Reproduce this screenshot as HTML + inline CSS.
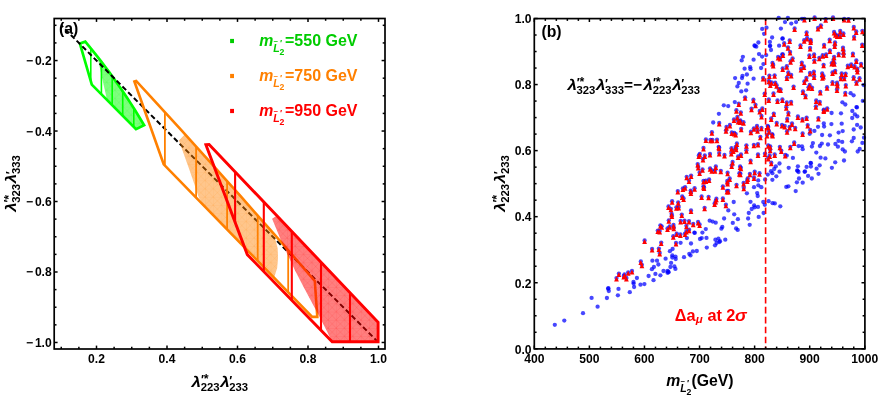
<!DOCTYPE html>
<html><head><meta charset="utf-8"><title>plot</title>
<style>html,body{margin:0;padding:0;background:#fff;}svg{display:block;will-change:transform;}text{font-family:"Liberation Sans", sans-serif;}</style>
</head><body>
<svg width="880" height="412" viewBox="0 0 880 412" font-family='"Liberation Sans", sans-serif'>
<rect width="880" height="412" fill="#fff"/>
<defs><pattern id="meshG" width="8.2" height="8.2" patternUnits="userSpaceOnUse"><path d="M0 0H8.2M0 0V8.2M0 0L8.2 8.2M8.2 0L0 8.2" stroke="#00ff00" stroke-width="0.7" stroke-opacity="0.16" fill="none"/></pattern><pattern id="meshO" width="8.2" height="8.2" patternUnits="userSpaceOnUse"><path d="M0 0H8.2M0 0V8.2M0 0L8.2 8.2M8.2 0L0 8.2" stroke="#ff8000" stroke-width="0.7" stroke-opacity="0.16" fill="none"/></pattern><pattern id="meshR" width="8.2" height="8.2" patternUnits="userSpaceOnUse"><path d="M0 0H8.2M0 0V8.2M0 0L8.2 8.2M8.2 0L0 8.2" stroke="#ff0000" stroke-width="0.7" stroke-opacity="0.16" fill="none"/></pattern></defs>
<polygon points="97.40,56.59 101.31,61.62 105.18,66.70 108.99,71.82 112.75,76.98 116.45,82.17 120.10,87.41 123.69,92.69 127.23,98.01 130.71,103.37 134.14,108.77 137.52,114.20 140.84,119.68 144.10,125.20 136.00,129.10 107.00,99.90" fill="#00ff00" stroke="none" stroke-width="1" fill-opacity="0.5"/>
<polygon points="97.40,56.59 101.31,61.62 105.18,66.70 108.99,71.82 112.75,76.98 116.45,82.17 120.10,87.41 123.69,92.69 127.23,98.01 130.71,103.37 134.14,108.77 137.52,114.20 140.84,119.68 144.10,125.20 136.00,129.10 107.00,99.90" fill="url(#meshG)" stroke="none" stroke-width="1" />
<line x1="90.80" y1="48.36" x2="90.80" y2="81.15" stroke="#00ff00" stroke-width="1.6" />
<line x1="101.40" y1="61.73" x2="101.40" y2="94.27" stroke="#00ff00" stroke-width="1.6" />
<line x1="112.20" y1="76.22" x2="112.20" y2="105.14" stroke="#00ff00" stroke-width="1.6" />
<line x1="122.70" y1="91.24" x2="122.70" y2="115.71" stroke="#00ff00" stroke-width="1.6" />
<line x1="133.80" y1="108.23" x2="133.80" y2="126.89" stroke="#00ff00" stroke-width="1.6" />
<polygon points="79.90,43.60 85.30,41.70 89.39,46.62 93.42,51.58 97.39,56.58 101.31,61.62 105.18,66.70 108.99,71.82 112.75,76.98 116.45,82.17 120.10,87.41 123.69,92.69 127.23,98.01 130.71,103.37 134.14,108.77 137.52,114.20 140.84,119.68 144.10,125.20 136.00,129.10 91.80,84.60" fill="none" stroke="#00ff00" stroke-width="2.7" stroke-linejoin="miter"/>
<line x1="61.25" y1="25.31" x2="378.50" y2="342.47" stroke="#000" stroke-width="2.0" stroke-dasharray="5.2 2.9" stroke-dashoffset="2.6"/>
<polygon points="178.90,140.50 184.50,134.69 270.40,229.96 275.00,238.00 277.70,248.50 278.00,258.00 277.20,268.00 274.00,277.65 205.50,207.25 199.00,198.00 189.50,170.00" fill="#ff8000" stroke="none" stroke-width="1" fill-opacity="0.45"/>
<polygon points="178.90,140.50 184.50,134.69 270.40,229.96 275.00,238.00 277.70,248.50 278.00,258.00 277.20,268.00 274.00,277.65 205.50,207.25 199.00,198.00 189.50,170.00" fill="url(#meshO)" stroke="none" stroke-width="1" />
<line x1="164.90" y1="112.15" x2="164.90" y2="165.53" stroke="#ff8000" stroke-width="1.8" />
<line x1="196.10" y1="146.52" x2="196.10" y2="197.59" stroke="#ff8000" stroke-width="1.8" />
<line x1="227.10" y1="181.06" x2="227.10" y2="229.45" stroke="#ff8000" stroke-width="1.8" />
<line x1="257.70" y1="215.54" x2="257.70" y2="260.90" stroke="#ff8000" stroke-width="1.8" />
<line x1="288.20" y1="250.29" x2="288.20" y2="292.24" stroke="#ff8000" stroke-width="1.8" />
<polygon points="134.40,81.50 136.20,80.90 151.08,97.07 165.97,113.32 180.85,129.67 195.73,146.11 210.62,162.64 225.50,179.26 240.38,195.98 255.27,212.78 270.15,229.68 285.03,246.66 299.92,263.74 314.80,280.91 317.30,316.90 312.20,316.90 163.70,164.30" fill="none" stroke="#ff8000" stroke-width="2.6" />
<polygon points="272.10,218.80 276.90,215.77 378.10,322.30 378.10,341.70 332.20,341.70 320.20,318.00 310.00,299.10 302.30,284.60 294.80,270.00 289.00,257.60 282.50,244.00" fill="#ff0000" stroke="none" stroke-width="1" fill-opacity="0.5"/>
<polygon points="272.10,218.80 276.90,215.77 378.10,322.30 378.10,341.70 332.20,341.70 320.20,318.00 310.00,299.10 302.30,284.60 294.80,270.00 289.00,257.60 282.50,244.00" fill="url(#meshR)" stroke="none" stroke-width="1" />
<line x1="235.10" y1="171.77" x2="235.10" y2="222.21" stroke="#ff0000" stroke-width="2.1" />
<line x1="263.80" y1="201.98" x2="263.80" y2="271.53" stroke="#ff0000" stroke-width="2.1" />
<line x1="291.80" y1="231.46" x2="291.80" y2="300.25" stroke="#ff0000" stroke-width="2.1" />
<line x1="321.00" y1="262.19" x2="321.00" y2="330.21" stroke="#ff0000" stroke-width="2.1" />
<line x1="350.00" y1="292.72" x2="350.00" y2="341.70" stroke="#ff0000" stroke-width="2.1" />
<polygon points="205.90,144.70 209.10,144.40 378.10,322.30 378.10,341.70 332.20,341.70 247.30,254.60" fill="none" stroke="#ff0000" stroke-width="2.9" />
<line x1="61.25" y1="349.00" x2="61.25" y2="346.70" stroke="#000" stroke-width="1.5" />
<line x1="61.25" y1="18.50" x2="61.25" y2="20.80" stroke="#000" stroke-width="1.5" />
<line x1="78.88" y1="349.00" x2="78.88" y2="346.70" stroke="#000" stroke-width="1.5" />
<line x1="78.88" y1="18.50" x2="78.88" y2="20.80" stroke="#000" stroke-width="1.5" />
<line x1="96.50" y1="349.00" x2="96.50" y2="345.60" stroke="#000" stroke-width="1.5" />
<line x1="96.50" y1="18.50" x2="96.50" y2="21.90" stroke="#000" stroke-width="1.5" />
<line x1="114.12" y1="349.00" x2="114.12" y2="346.70" stroke="#000" stroke-width="1.5" />
<line x1="114.12" y1="18.50" x2="114.12" y2="20.80" stroke="#000" stroke-width="1.5" />
<line x1="131.75" y1="349.00" x2="131.75" y2="346.70" stroke="#000" stroke-width="1.5" />
<line x1="131.75" y1="18.50" x2="131.75" y2="20.80" stroke="#000" stroke-width="1.5" />
<line x1="149.38" y1="349.00" x2="149.38" y2="346.70" stroke="#000" stroke-width="1.5" />
<line x1="149.38" y1="18.50" x2="149.38" y2="20.80" stroke="#000" stroke-width="1.5" />
<line x1="167.00" y1="349.00" x2="167.00" y2="345.60" stroke="#000" stroke-width="1.5" />
<line x1="167.00" y1="18.50" x2="167.00" y2="21.90" stroke="#000" stroke-width="1.5" />
<line x1="184.62" y1="349.00" x2="184.62" y2="346.70" stroke="#000" stroke-width="1.5" />
<line x1="184.62" y1="18.50" x2="184.62" y2="20.80" stroke="#000" stroke-width="1.5" />
<line x1="202.25" y1="349.00" x2="202.25" y2="346.70" stroke="#000" stroke-width="1.5" />
<line x1="202.25" y1="18.50" x2="202.25" y2="20.80" stroke="#000" stroke-width="1.5" />
<line x1="219.88" y1="349.00" x2="219.88" y2="346.70" stroke="#000" stroke-width="1.5" />
<line x1="219.88" y1="18.50" x2="219.88" y2="20.80" stroke="#000" stroke-width="1.5" />
<line x1="237.50" y1="349.00" x2="237.50" y2="345.60" stroke="#000" stroke-width="1.5" />
<line x1="237.50" y1="18.50" x2="237.50" y2="21.90" stroke="#000" stroke-width="1.5" />
<line x1="255.12" y1="349.00" x2="255.12" y2="346.70" stroke="#000" stroke-width="1.5" />
<line x1="255.12" y1="18.50" x2="255.12" y2="20.80" stroke="#000" stroke-width="1.5" />
<line x1="272.75" y1="349.00" x2="272.75" y2="346.70" stroke="#000" stroke-width="1.5" />
<line x1="272.75" y1="18.50" x2="272.75" y2="20.80" stroke="#000" stroke-width="1.5" />
<line x1="290.38" y1="349.00" x2="290.38" y2="346.70" stroke="#000" stroke-width="1.5" />
<line x1="290.38" y1="18.50" x2="290.38" y2="20.80" stroke="#000" stroke-width="1.5" />
<line x1="308.00" y1="349.00" x2="308.00" y2="345.60" stroke="#000" stroke-width="1.5" />
<line x1="308.00" y1="18.50" x2="308.00" y2="21.90" stroke="#000" stroke-width="1.5" />
<line x1="325.63" y1="349.00" x2="325.63" y2="346.70" stroke="#000" stroke-width="1.5" />
<line x1="325.63" y1="18.50" x2="325.63" y2="20.80" stroke="#000" stroke-width="1.5" />
<line x1="343.25" y1="349.00" x2="343.25" y2="346.70" stroke="#000" stroke-width="1.5" />
<line x1="343.25" y1="18.50" x2="343.25" y2="20.80" stroke="#000" stroke-width="1.5" />
<line x1="360.88" y1="349.00" x2="360.88" y2="346.70" stroke="#000" stroke-width="1.5" />
<line x1="360.88" y1="18.50" x2="360.88" y2="20.80" stroke="#000" stroke-width="1.5" />
<line x1="378.50" y1="349.00" x2="378.50" y2="345.60" stroke="#000" stroke-width="1.5" />
<line x1="378.50" y1="18.50" x2="378.50" y2="21.90" stroke="#000" stroke-width="1.5" />
<line x1="54.20" y1="25.31" x2="56.50" y2="25.31" stroke="#000" stroke-width="1.5" />
<line x1="385.00" y1="25.31" x2="382.70" y2="25.31" stroke="#000" stroke-width="1.5" />
<line x1="54.20" y1="42.93" x2="56.50" y2="42.93" stroke="#000" stroke-width="1.5" />
<line x1="385.00" y1="42.93" x2="382.70" y2="42.93" stroke="#000" stroke-width="1.5" />
<line x1="54.20" y1="60.55" x2="57.60" y2="60.55" stroke="#000" stroke-width="1.5" />
<line x1="385.00" y1="60.55" x2="381.60" y2="60.55" stroke="#000" stroke-width="1.5" />
<line x1="54.20" y1="78.17" x2="56.50" y2="78.17" stroke="#000" stroke-width="1.5" />
<line x1="385.00" y1="78.17" x2="382.70" y2="78.17" stroke="#000" stroke-width="1.5" />
<line x1="54.20" y1="95.79" x2="56.50" y2="95.79" stroke="#000" stroke-width="1.5" />
<line x1="385.00" y1="95.79" x2="382.70" y2="95.79" stroke="#000" stroke-width="1.5" />
<line x1="54.20" y1="113.41" x2="56.50" y2="113.41" stroke="#000" stroke-width="1.5" />
<line x1="385.00" y1="113.41" x2="382.70" y2="113.41" stroke="#000" stroke-width="1.5" />
<line x1="54.20" y1="131.03" x2="57.60" y2="131.03" stroke="#000" stroke-width="1.5" />
<line x1="385.00" y1="131.03" x2="381.60" y2="131.03" stroke="#000" stroke-width="1.5" />
<line x1="54.20" y1="148.65" x2="56.50" y2="148.65" stroke="#000" stroke-width="1.5" />
<line x1="385.00" y1="148.65" x2="382.70" y2="148.65" stroke="#000" stroke-width="1.5" />
<line x1="54.20" y1="166.27" x2="56.50" y2="166.27" stroke="#000" stroke-width="1.5" />
<line x1="385.00" y1="166.27" x2="382.70" y2="166.27" stroke="#000" stroke-width="1.5" />
<line x1="54.20" y1="183.89" x2="56.50" y2="183.89" stroke="#000" stroke-width="1.5" />
<line x1="385.00" y1="183.89" x2="382.70" y2="183.89" stroke="#000" stroke-width="1.5" />
<line x1="54.20" y1="201.51" x2="57.60" y2="201.51" stroke="#000" stroke-width="1.5" />
<line x1="385.00" y1="201.51" x2="381.60" y2="201.51" stroke="#000" stroke-width="1.5" />
<line x1="54.20" y1="219.13" x2="56.50" y2="219.13" stroke="#000" stroke-width="1.5" />
<line x1="385.00" y1="219.13" x2="382.70" y2="219.13" stroke="#000" stroke-width="1.5" />
<line x1="54.20" y1="236.75" x2="56.50" y2="236.75" stroke="#000" stroke-width="1.5" />
<line x1="385.00" y1="236.75" x2="382.70" y2="236.75" stroke="#000" stroke-width="1.5" />
<line x1="54.20" y1="254.37" x2="56.50" y2="254.37" stroke="#000" stroke-width="1.5" />
<line x1="385.00" y1="254.37" x2="382.70" y2="254.37" stroke="#000" stroke-width="1.5" />
<line x1="54.20" y1="271.99" x2="57.60" y2="271.99" stroke="#000" stroke-width="1.5" />
<line x1="385.00" y1="271.99" x2="381.60" y2="271.99" stroke="#000" stroke-width="1.5" />
<line x1="54.20" y1="289.61" x2="56.50" y2="289.61" stroke="#000" stroke-width="1.5" />
<line x1="385.00" y1="289.61" x2="382.70" y2="289.61" stroke="#000" stroke-width="1.5" />
<line x1="54.20" y1="307.23" x2="56.50" y2="307.23" stroke="#000" stroke-width="1.5" />
<line x1="385.00" y1="307.23" x2="382.70" y2="307.23" stroke="#000" stroke-width="1.5" />
<line x1="54.20" y1="324.85" x2="56.50" y2="324.85" stroke="#000" stroke-width="1.5" />
<line x1="385.00" y1="324.85" x2="382.70" y2="324.85" stroke="#000" stroke-width="1.5" />
<line x1="54.20" y1="342.47" x2="57.60" y2="342.47" stroke="#000" stroke-width="1.5" />
<line x1="385.00" y1="342.47" x2="381.60" y2="342.47" stroke="#000" stroke-width="1.5" />
<rect x="54.2" y="18.5" width="330.8" height="330.5" fill="none" stroke="#000" stroke-width="1.7"/>
<text x="96.50" y="363.40" font-size="12.1" font-weight="bold" font-style="normal" fill="#000" text-anchor="middle" >0.2</text>
<text x="51.70" y="65.05" font-size="12.1" font-weight="bold" font-style="normal" fill="#000" text-anchor="end" >0.2</text>
<text x="33.20" y="65.05" font-size="12.1" font-weight="bold" font-style="normal" fill="#000" text-anchor="end" >−</text>
<text x="167.00" y="363.40" font-size="12.1" font-weight="bold" font-style="normal" fill="#000" text-anchor="middle" >0.4</text>
<text x="51.70" y="135.53" font-size="12.1" font-weight="bold" font-style="normal" fill="#000" text-anchor="end" >0.4</text>
<text x="33.20" y="135.53" font-size="12.1" font-weight="bold" font-style="normal" fill="#000" text-anchor="end" >−</text>
<text x="237.50" y="363.40" font-size="12.1" font-weight="bold" font-style="normal" fill="#000" text-anchor="middle" >0.6</text>
<text x="51.70" y="206.01" font-size="12.1" font-weight="bold" font-style="normal" fill="#000" text-anchor="end" >0.6</text>
<text x="33.20" y="206.01" font-size="12.1" font-weight="bold" font-style="normal" fill="#000" text-anchor="end" >−</text>
<text x="308.00" y="363.40" font-size="12.1" font-weight="bold" font-style="normal" fill="#000" text-anchor="middle" >0.8</text>
<text x="51.70" y="276.49" font-size="12.1" font-weight="bold" font-style="normal" fill="#000" text-anchor="end" >0.8</text>
<text x="33.20" y="276.49" font-size="12.1" font-weight="bold" font-style="normal" fill="#000" text-anchor="end" >−</text>
<text x="378.50" y="363.40" font-size="12.1" font-weight="bold" font-style="normal" fill="#000" text-anchor="middle" >1.0</text>
<text x="51.70" y="346.97" font-size="12.1" font-weight="bold" font-style="normal" fill="#000" text-anchor="end" >1.0</text>
<text x="33.20" y="346.97" font-size="12.1" font-weight="bold" font-style="normal" fill="#000" text-anchor="end" >−</text>
<text x="59.00" y="33.90" font-size="15.8" font-weight="bold" font-style="normal" fill="#000" text-anchor="start" >(a)</text>
<text transform="translate(191.60,386.60) scale(1.13,1)" font-size="15" font-weight="bold" font-style="italic" fill="#000">λ</text><text x="200.70" y="391.00" font-size="11.3" font-weight="bold" fill="#000">223</text><text x="200.90" y="383.80" font-size="12.4" font-weight="bold" fill="#000">′</text><text x="203.70" y="383.20" font-size="12.4" font-weight="bold" fill="#000">*</text>
<text transform="translate(220.20,386.60) scale(1.13,1)" font-size="15" font-weight="bold" font-style="italic" fill="#000">λ</text><text x="229.30" y="391.00" font-size="11.3" font-weight="bold" fill="#000">233</text><text x="229.20" y="385.40" font-size="12.4" font-weight="bold" fill="#000">′</text>
<g transform="translate(15.9,212.2) rotate(-90)">
<text transform="translate(0.40,0.00) scale(1.13,1)" font-size="15" font-weight="bold" font-style="italic" fill="#000">λ</text><text x="9.50" y="4.40" font-size="11.3" font-weight="bold" fill="#000">323</text><text x="9.70" y="-2.80" font-size="12.4" font-weight="bold" fill="#000">′</text><text x="12.50" y="-3.40" font-size="12.4" font-weight="bold" fill="#000">*</text>
<text transform="translate(29.00,0.00) scale(1.13,1)" font-size="15" font-weight="bold" font-style="italic" fill="#000">λ</text><text x="38.10" y="4.40" font-size="11.3" font-weight="bold" fill="#000">333</text><text x="38.00" y="-1.20" font-size="12.4" font-weight="bold" fill="#000">′</text>
</g>
<rect x="230.1" y="38.90" width="3.9" height="4.2" fill="#00cc00"/>
<text x="259.20" y="46.00" font-size="15.8" font-weight="bold" font-style="italic" fill="#00cc00">m</text>
<text x="273.30" y="52.20" font-size="10.6" font-weight="bold" font-style="italic" fill="#00cc00">L</text>
<text x="279.60" y="54.70" font-size="8.7" font-weight="bold" fill="#00cc00">2</text>
<text x="273.40" y="44.10" font-size="7.6" font-weight="bold" fill="#00cc00">~</text>
<text x="279.90" y="45.80" font-size="9" font-weight="bold" fill="#00cc00">′</text>
<text x="285.00" y="46.30" font-size="16.0" font-weight="bold" font-style="normal" fill="#00cc00" text-anchor="start" >=550 GeV</text>
<rect x="230.1" y="73.90" width="3.9" height="4.2" fill="#ff8000"/>
<text x="259.20" y="81.00" font-size="15.8" font-weight="bold" font-style="italic" fill="#ff8000">m</text>
<text x="273.30" y="87.20" font-size="10.6" font-weight="bold" font-style="italic" fill="#ff8000">L</text>
<text x="279.60" y="89.70" font-size="8.7" font-weight="bold" fill="#ff8000">2</text>
<text x="273.40" y="79.10" font-size="7.6" font-weight="bold" fill="#ff8000">~</text>
<text x="279.90" y="80.80" font-size="9" font-weight="bold" fill="#ff8000">′</text>
<text x="285.00" y="81.30" font-size="16.0" font-weight="bold" font-style="normal" fill="#ff8000" text-anchor="start" >=750 GeV</text>
<rect x="230.1" y="108.90" width="3.9" height="4.2" fill="#ff0000"/>
<text x="259.20" y="116.00" font-size="15.8" font-weight="bold" font-style="italic" fill="#ff0000">m</text>
<text x="273.30" y="122.20" font-size="10.6" font-weight="bold" font-style="italic" fill="#ff0000">L</text>
<text x="279.60" y="124.70" font-size="8.7" font-weight="bold" fill="#ff0000">2</text>
<text x="273.40" y="114.10" font-size="7.6" font-weight="bold" fill="#ff0000">~</text>
<text x="279.90" y="115.80" font-size="9" font-weight="bold" fill="#ff0000">′</text>
<text x="285.00" y="116.30" font-size="16.0" font-weight="bold" font-style="normal" fill="#ff0000" text-anchor="start" >=950 GeV</text>
<g fill="#0000ff" fill-opacity="0.72">
<circle cx="554.8" cy="324.8" r="2.15"/>
<circle cx="564.3" cy="320.6" r="2.15"/>
<circle cx="583.0" cy="313.2" r="2.15"/>
<circle cx="591.6" cy="297.9" r="2.15"/>
<circle cx="597.6" cy="306.7" r="2.15"/>
<circle cx="606.9" cy="298.0" r="2.15"/>
<circle cx="608.1" cy="288.7" r="2.15"/>
<circle cx="608.4" cy="288.2" r="2.15"/>
<circle cx="608.8" cy="291.0" r="2.15"/>
<circle cx="616.5" cy="278.1" r="2.15"/>
<circle cx="617.9" cy="295.3" r="2.15"/>
<circle cx="618.5" cy="288.9" r="2.15"/>
<circle cx="618.9" cy="273.6" r="2.15"/>
<circle cx="623.8" cy="276.0" r="2.15"/>
<circle cx="624.5" cy="274.5" r="2.15"/>
<circle cx="626.4" cy="278.0" r="2.15"/>
<circle cx="628.2" cy="272.3" r="2.15"/>
<circle cx="629.8" cy="292.2" r="2.15"/>
<circle cx="632.0" cy="270.9" r="2.15"/>
<circle cx="633.5" cy="282.0" r="2.15"/>
<circle cx="633.6" cy="283.6" r="2.15"/>
<circle cx="634.1" cy="287.0" r="2.15"/>
<circle cx="636.9" cy="278.0" r="2.15"/>
<circle cx="640.5" cy="284.7" r="2.15"/>
<circle cx="640.8" cy="261.4" r="2.15"/>
<circle cx="641.9" cy="264.8" r="2.15"/>
<circle cx="644.4" cy="284.1" r="2.15"/>
<circle cx="644.6" cy="240.4" r="2.15"/>
<circle cx="648.6" cy="276.0" r="2.15"/>
<circle cx="651.9" cy="269.2" r="2.15"/>
<circle cx="652.1" cy="249.0" r="2.15"/>
<circle cx="652.4" cy="260.7" r="2.15"/>
<circle cx="653.5" cy="280.2" r="2.15"/>
<circle cx="653.9" cy="267.0" r="2.15"/>
<circle cx="655.4" cy="273.9" r="2.15"/>
<circle cx="657.0" cy="260.7" r="2.15"/>
<circle cx="657.8" cy="230.6" r="2.15"/>
<circle cx="658.4" cy="264.5" r="2.15"/>
<circle cx="658.9" cy="248.6" r="2.15"/>
<circle cx="659.7" cy="252.9" r="2.15"/>
<circle cx="659.7" cy="231.1" r="2.15"/>
<circle cx="660.4" cy="275.3" r="2.15"/>
<circle cx="660.4" cy="225.3" r="2.15"/>
<circle cx="661.2" cy="242.6" r="2.15"/>
<circle cx="661.7" cy="226.3" r="2.15"/>
<circle cx="663.5" cy="271.0" r="2.15"/>
<circle cx="665.6" cy="258.7" r="2.15"/>
<circle cx="667.5" cy="270.9" r="2.15"/>
<circle cx="667.5" cy="272.8" r="2.15"/>
<circle cx="667.5" cy="228.4" r="2.15"/>
<circle cx="668.3" cy="271.7" r="2.15"/>
<circle cx="668.5" cy="206.4" r="2.15"/>
<circle cx="668.6" cy="272.3" r="2.15"/>
<circle cx="668.8" cy="220.3" r="2.15"/>
<circle cx="669.7" cy="226.3" r="2.15"/>
<circle cx="669.9" cy="251.2" r="2.15"/>
<circle cx="670.4" cy="267.0" r="2.15"/>
<circle cx="670.9" cy="208.8" r="2.15"/>
<circle cx="671.1" cy="262.9" r="2.15"/>
<circle cx="671.6" cy="213.8" r="2.15"/>
<circle cx="671.9" cy="215.6" r="2.15"/>
<circle cx="672.1" cy="201.2" r="2.15"/>
<circle cx="672.3" cy="255.4" r="2.15"/>
<circle cx="672.3" cy="257.5" r="2.15"/>
<circle cx="672.6" cy="249.0" r="2.15"/>
<circle cx="673.3" cy="236.2" r="2.15"/>
<circle cx="673.5" cy="225.0" r="2.15"/>
<circle cx="673.8" cy="227.7" r="2.15"/>
<circle cx="674.4" cy="266.4" r="2.15"/>
<circle cx="675.4" cy="268.9" r="2.15"/>
<circle cx="675.5" cy="256.6" r="2.15"/>
<circle cx="675.7" cy="259.0" r="2.15"/>
<circle cx="676.0" cy="243.0" r="2.15"/>
<circle cx="676.4" cy="207.3" r="2.15"/>
<circle cx="676.7" cy="233.6" r="2.15"/>
<circle cx="677.8" cy="191.1" r="2.15"/>
<circle cx="678.2" cy="202.3" r="2.15"/>
<circle cx="678.7" cy="206.9" r="2.15"/>
<circle cx="680.4" cy="234.5" r="2.15"/>
<circle cx="680.6" cy="242.8" r="2.15"/>
<circle cx="680.6" cy="220.9" r="2.15"/>
<circle cx="681.8" cy="214.6" r="2.15"/>
<circle cx="682.2" cy="196.5" r="2.15"/>
<circle cx="682.9" cy="188.4" r="2.15"/>
<circle cx="683.6" cy="198.4" r="2.15"/>
<circle cx="684.0" cy="257.2" r="2.15"/>
<circle cx="684.5" cy="220.6" r="2.15"/>
<circle cx="685.0" cy="233.6" r="2.15"/>
<circle cx="685.1" cy="187.2" r="2.15"/>
<circle cx="686.4" cy="225.8" r="2.15"/>
<circle cx="686.4" cy="231.1" r="2.15"/>
<circle cx="686.7" cy="176.8" r="2.15"/>
<circle cx="686.9" cy="238.1" r="2.15"/>
<circle cx="689.0" cy="221.1" r="2.15"/>
<circle cx="689.0" cy="180.4" r="2.15"/>
<circle cx="689.1" cy="229.7" r="2.15"/>
<circle cx="689.3" cy="253.8" r="2.15"/>
<circle cx="690.5" cy="255.4" r="2.15"/>
<circle cx="690.7" cy="190.6" r="2.15"/>
<circle cx="690.9" cy="192.6" r="2.15"/>
<circle cx="691.0" cy="243.5" r="2.15"/>
<circle cx="691.0" cy="210.5" r="2.15"/>
<circle cx="691.1" cy="175.6" r="2.15"/>
<circle cx="692.9" cy="251.4" r="2.15"/>
<circle cx="693.2" cy="223.8" r="2.15"/>
<circle cx="694.4" cy="232.6" r="2.15"/>
<circle cx="694.6" cy="188.2" r="2.15"/>
<circle cx="694.7" cy="232.9" r="2.15"/>
<circle cx="696.8" cy="251.0" r="2.15"/>
<circle cx="697.7" cy="164.1" r="2.15"/>
<circle cx="698.1" cy="221.9" r="2.15"/>
<circle cx="698.2" cy="166.9" r="2.15"/>
<circle cx="698.8" cy="155.5" r="2.15"/>
<circle cx="699.6" cy="224.4" r="2.15"/>
<circle cx="699.6" cy="172.5" r="2.15"/>
<circle cx="699.8" cy="154.0" r="2.15"/>
<circle cx="700.0" cy="239.0" r="2.15"/>
<circle cx="701.6" cy="196.5" r="2.15"/>
<circle cx="701.7" cy="238.1" r="2.15"/>
<circle cx="702.4" cy="232.6" r="2.15"/>
<circle cx="702.5" cy="169.3" r="2.15"/>
<circle cx="703.0" cy="158.9" r="2.15"/>
<circle cx="703.5" cy="180.9" r="2.15"/>
<circle cx="703.5" cy="186.3" r="2.15"/>
<circle cx="703.5" cy="148.0" r="2.15"/>
<circle cx="704.0" cy="187.4" r="2.15"/>
<circle cx="704.6" cy="207.8" r="2.15"/>
<circle cx="704.8" cy="155.5" r="2.15"/>
<circle cx="705.8" cy="229.1" r="2.15"/>
<circle cx="705.9" cy="180.6" r="2.15"/>
<circle cx="705.9" cy="139.5" r="2.15"/>
<circle cx="706.5" cy="237.9" r="2.15"/>
<circle cx="706.8" cy="247.6" r="2.15"/>
<circle cx="708.6" cy="196.8" r="2.15"/>
<circle cx="709.1" cy="179.5" r="2.15"/>
<circle cx="709.7" cy="220.7" r="2.15"/>
<circle cx="710.0" cy="154.0" r="2.15"/>
<circle cx="710.1" cy="168.3" r="2.15"/>
<circle cx="710.5" cy="139.8" r="2.15"/>
<circle cx="711.8" cy="170.3" r="2.15"/>
<circle cx="711.9" cy="132.2" r="2.15"/>
<circle cx="712.4" cy="139.8" r="2.15"/>
<circle cx="712.6" cy="221.6" r="2.15"/>
<circle cx="713.2" cy="122.5" r="2.15"/>
<circle cx="714.6" cy="203.5" r="2.15"/>
<circle cx="715.0" cy="245.3" r="2.15"/>
<circle cx="715.0" cy="170.3" r="2.15"/>
<circle cx="715.4" cy="239.7" r="2.15"/>
<circle cx="715.7" cy="222.7" r="2.15"/>
<circle cx="715.7" cy="201.0" r="2.15"/>
<circle cx="715.8" cy="166.4" r="2.15"/>
<circle cx="716.4" cy="198.7" r="2.15"/>
<circle cx="716.6" cy="243.0" r="2.15"/>
<circle cx="717.0" cy="139.7" r="2.15"/>
<circle cx="718.4" cy="238.7" r="2.15"/>
<circle cx="718.7" cy="146.8" r="2.15"/>
<circle cx="718.9" cy="113.8" r="2.15"/>
<circle cx="719.2" cy="123.0" r="2.15"/>
<circle cx="719.2" cy="147.7" r="2.15"/>
<circle cx="719.2" cy="153.1" r="2.15"/>
<circle cx="719.4" cy="242.0" r="2.15"/>
<circle cx="720.0" cy="241.2" r="2.15"/>
<circle cx="720.8" cy="170.8" r="2.15"/>
<circle cx="721.4" cy="228.7" r="2.15"/>
<circle cx="722.3" cy="226.9" r="2.15"/>
<circle cx="722.9" cy="186.3" r="2.15"/>
<circle cx="722.9" cy="198.4" r="2.15"/>
<circle cx="723.8" cy="105.3" r="2.15"/>
<circle cx="724.1" cy="218.5" r="2.15"/>
<circle cx="724.5" cy="155.0" r="2.15"/>
<circle cx="725.3" cy="239.7" r="2.15"/>
<circle cx="725.9" cy="204.7" r="2.15"/>
<circle cx="726.0" cy="130.3" r="2.15"/>
<circle cx="726.5" cy="126.9" r="2.15"/>
<circle cx="727.0" cy="190.9" r="2.15"/>
<circle cx="727.3" cy="180.9" r="2.15"/>
<circle cx="727.6" cy="172.7" r="2.15"/>
<circle cx="727.6" cy="182.9" r="2.15"/>
<circle cx="728.2" cy="106.1" r="2.15"/>
<circle cx="728.3" cy="210.4" r="2.15"/>
<circle cx="728.3" cy="190.9" r="2.15"/>
<circle cx="729.7" cy="178.5" r="2.15"/>
<circle cx="729.9" cy="124.9" r="2.15"/>
<circle cx="731.3" cy="153.1" r="2.15"/>
<circle cx="731.5" cy="148.2" r="2.15"/>
<circle cx="731.7" cy="165.4" r="2.15"/>
<circle cx="731.8" cy="132.5" r="2.15"/>
<circle cx="732.6" cy="162.0" r="2.15"/>
<circle cx="732.8" cy="222.9" r="2.15"/>
<circle cx="733.3" cy="150.6" r="2.15"/>
<circle cx="733.7" cy="202.0" r="2.15"/>
<circle cx="734.0" cy="119.4" r="2.15"/>
<circle cx="734.2" cy="214.3" r="2.15"/>
<circle cx="734.3" cy="132.9" r="2.15"/>
<circle cx="734.8" cy="102.1" r="2.15"/>
<circle cx="735.1" cy="78.1" r="2.15"/>
<circle cx="735.7" cy="134.1" r="2.15"/>
<circle cx="735.7" cy="146.8" r="2.15"/>
<circle cx="736.1" cy="228.4" r="2.15"/>
<circle cx="736.2" cy="148.7" r="2.15"/>
<circle cx="736.4" cy="110.2" r="2.15"/>
<circle cx="736.5" cy="184.8" r="2.15"/>
<circle cx="736.9" cy="143.4" r="2.15"/>
<circle cx="737.4" cy="86.4" r="2.15"/>
<circle cx="737.4" cy="117.0" r="2.15"/>
<circle cx="737.7" cy="229.9" r="2.15"/>
<circle cx="737.9" cy="219.2" r="2.15"/>
<circle cx="738.1" cy="121.0" r="2.15"/>
<circle cx="738.1" cy="156.5" r="2.15"/>
<circle cx="738.8" cy="83.0" r="2.15"/>
<circle cx="738.8" cy="103.6" r="2.15"/>
<circle cx="739.4" cy="173.2" r="2.15"/>
<circle cx="740.0" cy="121.5" r="2.15"/>
<circle cx="740.1" cy="166.4" r="2.15"/>
<circle cx="740.3" cy="120.3" r="2.15"/>
<circle cx="740.4" cy="173.7" r="2.15"/>
<circle cx="740.8" cy="112.3" r="2.15"/>
<circle cx="740.9" cy="167.8" r="2.15"/>
<circle cx="741.0" cy="154.5" r="2.15"/>
<circle cx="741.2" cy="128.8" r="2.15"/>
<circle cx="741.3" cy="91.4" r="2.15"/>
<circle cx="741.7" cy="60.4" r="2.15"/>
<circle cx="742.0" cy="78.1" r="2.15"/>
<circle cx="742.5" cy="75.8" r="2.15"/>
<circle cx="742.9" cy="56.8" r="2.15"/>
<circle cx="743.5" cy="122.2" r="2.15"/>
<circle cx="743.6" cy="182.9" r="2.15"/>
<circle cx="743.8" cy="187.7" r="2.15"/>
<circle cx="744.6" cy="68.7" r="2.15"/>
<circle cx="745.1" cy="97.3" r="2.15"/>
<circle cx="746.1" cy="90.3" r="2.15"/>
<circle cx="746.4" cy="145.3" r="2.15"/>
<circle cx="746.4" cy="150.2" r="2.15"/>
<circle cx="746.9" cy="193.3" r="2.15"/>
<circle cx="746.9" cy="74.5" r="2.15"/>
<circle cx="747.2" cy="180.4" r="2.15"/>
<circle cx="747.6" cy="83.7" r="2.15"/>
<circle cx="747.7" cy="178.5" r="2.15"/>
<circle cx="748.1" cy="218.5" r="2.15"/>
<circle cx="748.8" cy="213.0" r="2.15"/>
<circle cx="749.7" cy="224.8" r="2.15"/>
<circle cx="749.9" cy="173.8" r="2.15"/>
<circle cx="750.2" cy="67.2" r="2.15"/>
<circle cx="750.5" cy="201.8" r="2.15"/>
<circle cx="750.5" cy="69.2" r="2.15"/>
<circle cx="750.6" cy="160.7" r="2.15"/>
<circle cx="750.9" cy="131.7" r="2.15"/>
<circle cx="751.5" cy="108.7" r="2.15"/>
<circle cx="751.7" cy="209.0" r="2.15"/>
<circle cx="753.4" cy="99.7" r="2.15"/>
<circle cx="753.6" cy="59.7" r="2.15"/>
<circle cx="753.6" cy="78.7" r="2.15"/>
<circle cx="753.9" cy="128.3" r="2.15"/>
<circle cx="753.9" cy="144.8" r="2.15"/>
<circle cx="754.0" cy="187.2" r="2.15"/>
<circle cx="754.0" cy="177.5" r="2.15"/>
<circle cx="754.1" cy="205.4" r="2.15"/>
<circle cx="754.5" cy="45.5" r="2.15"/>
<circle cx="754.7" cy="207.3" r="2.15"/>
<circle cx="754.7" cy="171.7" r="2.15"/>
<circle cx="754.9" cy="46.0" r="2.15"/>
<circle cx="755.5" cy="104.8" r="2.15"/>
<circle cx="756.3" cy="46.7" r="2.15"/>
<circle cx="757.0" cy="125.9" r="2.15"/>
<circle cx="757.2" cy="193.1" r="2.15"/>
<circle cx="757.5" cy="130.3" r="2.15"/>
<circle cx="757.7" cy="196.0" r="2.15"/>
<circle cx="758.0" cy="206.9" r="2.15"/>
<circle cx="758.0" cy="144.1" r="2.15"/>
<circle cx="758.0" cy="154.5" r="2.15"/>
<circle cx="758.2" cy="180.4" r="2.15"/>
<circle cx="758.3" cy="185.3" r="2.15"/>
<circle cx="758.4" cy="42.5" r="2.15"/>
<circle cx="758.7" cy="216.9" r="2.15"/>
<circle cx="759.0" cy="54.1" r="2.15"/>
<circle cx="759.5" cy="173.2" r="2.15"/>
<circle cx="759.7" cy="110.9" r="2.15"/>
<circle cx="760.4" cy="136.8" r="2.15"/>
<circle cx="761.1" cy="68.0" r="2.15"/>
<circle cx="761.3" cy="187.2" r="2.15"/>
<circle cx="761.4" cy="127.8" r="2.15"/>
<circle cx="761.5" cy="116.0" r="2.15"/>
<circle cx="762.1" cy="56.6" r="2.15"/>
<circle cx="762.2" cy="28.9" r="2.15"/>
<circle cx="762.3" cy="108.5" r="2.15"/>
<circle cx="763.1" cy="77.9" r="2.15"/>
<circle cx="763.3" cy="202.0" r="2.15"/>
<circle cx="763.4" cy="64.1" r="2.15"/>
<circle cx="763.6" cy="213.0" r="2.15"/>
<circle cx="764.1" cy="33.8" r="2.15"/>
<circle cx="764.7" cy="93.6" r="2.15"/>
<circle cx="764.8" cy="204.8" r="2.15"/>
<circle cx="765.0" cy="153.6" r="2.15"/>
<circle cx="765.1" cy="179.5" r="2.15"/>
<circle cx="766.2" cy="55.1" r="2.15"/>
<circle cx="766.5" cy="27.7" r="2.15"/>
<circle cx="767.0" cy="135.1" r="2.15"/>
<circle cx="767.7" cy="125.9" r="2.15"/>
<circle cx="767.8" cy="174.6" r="2.15"/>
<circle cx="768.2" cy="126.9" r="2.15"/>
<circle cx="768.2" cy="145.3" r="2.15"/>
<circle cx="768.2" cy="157.9" r="2.15"/>
<circle cx="768.6" cy="201.2" r="2.15"/>
<circle cx="768.8" cy="99.5" r="2.15"/>
<circle cx="768.9" cy="80.8" r="2.15"/>
<circle cx="769.0" cy="131.2" r="2.15"/>
<circle cx="769.4" cy="75.6" r="2.15"/>
<circle cx="769.7" cy="155.5" r="2.15"/>
<circle cx="769.9" cy="42.0" r="2.15"/>
<circle cx="769.9" cy="46.1" r="2.15"/>
<circle cx="770.2" cy="45.8" r="2.15"/>
<circle cx="770.2" cy="146.3" r="2.15"/>
<circle cx="770.2" cy="149.7" r="2.15"/>
<circle cx="770.3" cy="84.4" r="2.15"/>
<circle cx="771.0" cy="171.2" r="2.15"/>
<circle cx="771.0" cy="50.0" r="2.15"/>
<circle cx="771.2" cy="118.4" r="2.15"/>
<circle cx="771.3" cy="162.7" r="2.15"/>
<circle cx="771.5" cy="82.3" r="2.15"/>
<circle cx="772.1" cy="37.5" r="2.15"/>
<circle cx="772.1" cy="134.1" r="2.15"/>
<circle cx="772.4" cy="173.2" r="2.15"/>
<circle cx="772.4" cy="179.8" r="2.15"/>
<circle cx="772.5" cy="62.9" r="2.15"/>
<circle cx="772.6" cy="203.2" r="2.15"/>
<circle cx="772.6" cy="135.1" r="2.15"/>
<circle cx="773.2" cy="64.9" r="2.15"/>
<circle cx="773.5" cy="93.5" r="2.15"/>
<circle cx="773.8" cy="113.6" r="2.15"/>
<circle cx="774.2" cy="169.0" r="2.15"/>
<circle cx="774.6" cy="75.3" r="2.15"/>
<circle cx="774.7" cy="154.5" r="2.15"/>
<circle cx="774.8" cy="203.4" r="2.15"/>
<circle cx="775.2" cy="82.6" r="2.15"/>
<circle cx="775.8" cy="166.4" r="2.15"/>
<circle cx="776.3" cy="176.3" r="2.15"/>
<circle cx="776.6" cy="85.2" r="2.15"/>
<circle cx="776.7" cy="123.0" r="2.15"/>
<circle cx="777.5" cy="100.4" r="2.15"/>
<circle cx="778.1" cy="57.0" r="2.15"/>
<circle cx="778.7" cy="17.8" r="2.15"/>
<circle cx="778.7" cy="88.9" r="2.15"/>
<circle cx="779.1" cy="45.7" r="2.15"/>
<circle cx="779.5" cy="163.5" r="2.15"/>
<circle cx="779.5" cy="171.7" r="2.15"/>
<circle cx="779.9" cy="146.8" r="2.15"/>
<circle cx="780.1" cy="58.0" r="2.15"/>
<circle cx="780.3" cy="206.3" r="2.15"/>
<circle cx="780.6" cy="89.5" r="2.15"/>
<circle cx="780.9" cy="28.6" r="2.15"/>
<circle cx="781.3" cy="150.6" r="2.15"/>
<circle cx="782.0" cy="124.9" r="2.15"/>
<circle cx="782.2" cy="54.4" r="2.15"/>
<circle cx="782.4" cy="38.7" r="2.15"/>
<circle cx="782.4" cy="99.5" r="2.15"/>
<circle cx="782.7" cy="38.4" r="2.15"/>
<circle cx="782.7" cy="68.4" r="2.15"/>
<circle cx="782.9" cy="54.4" r="2.15"/>
<circle cx="784.2" cy="43.2" r="2.15"/>
<circle cx="784.7" cy="125.9" r="2.15"/>
<circle cx="785.0" cy="22.1" r="2.15"/>
<circle cx="785.2" cy="155.0" r="2.15"/>
<circle cx="786.3" cy="186.9" r="2.15"/>
<circle cx="786.3" cy="107.2" r="2.15"/>
<circle cx="786.8" cy="155.6" r="2.15"/>
<circle cx="786.8" cy="102.4" r="2.15"/>
<circle cx="786.8" cy="66.2" r="2.15"/>
<circle cx="786.9" cy="77.6" r="2.15"/>
<circle cx="787.1" cy="131.2" r="2.15"/>
<circle cx="787.2" cy="118.9" r="2.15"/>
<circle cx="787.9" cy="17.8" r="2.15"/>
<circle cx="788.0" cy="47.3" r="2.15"/>
<circle cx="788.3" cy="72.4" r="2.15"/>
<circle cx="788.4" cy="186.3" r="2.15"/>
<circle cx="788.4" cy="112.9" r="2.15"/>
<circle cx="788.7" cy="167.8" r="2.15"/>
<circle cx="789.6" cy="126.9" r="2.15"/>
<circle cx="789.7" cy="40.5" r="2.15"/>
<circle cx="790.1" cy="52.0" r="2.15"/>
<circle cx="790.3" cy="146.8" r="2.15"/>
<circle cx="790.6" cy="61.2" r="2.15"/>
<circle cx="791.1" cy="101.9" r="2.15"/>
<circle cx="791.2" cy="74.9" r="2.15"/>
<circle cx="791.3" cy="23.6" r="2.15"/>
<circle cx="792.0" cy="123.5" r="2.15"/>
<circle cx="792.6" cy="58.3" r="2.15"/>
<circle cx="792.9" cy="157.9" r="2.15"/>
<circle cx="793.6" cy="86.6" r="2.15"/>
<circle cx="794.2" cy="142.4" r="2.15"/>
<circle cx="794.6" cy="28.5" r="2.15"/>
<circle cx="795.2" cy="127.8" r="2.15"/>
<circle cx="795.7" cy="191.1" r="2.15"/>
<circle cx="796.1" cy="22.1" r="2.15"/>
<circle cx="796.9" cy="182.3" r="2.15"/>
<circle cx="797.2" cy="170.4" r="2.15"/>
<circle cx="797.5" cy="170.8" r="2.15"/>
<circle cx="797.9" cy="166.3" r="2.15"/>
<circle cx="797.9" cy="116.5" r="2.15"/>
<circle cx="798.5" cy="172.0" r="2.15"/>
<circle cx="798.6" cy="146.1" r="2.15"/>
<circle cx="799.0" cy="178.5" r="2.15"/>
<circle cx="800.5" cy="45.5" r="2.15"/>
<circle cx="801.0" cy="68.9" r="2.15"/>
<circle cx="801.8" cy="62.7" r="2.15"/>
<circle cx="802.0" cy="146.3" r="2.15"/>
<circle cx="802.0" cy="18.8" r="2.15"/>
<circle cx="802.4" cy="119.1" r="2.15"/>
<circle cx="802.6" cy="133.4" r="2.15"/>
<circle cx="802.7" cy="182.7" r="2.15"/>
<circle cx="802.7" cy="149.2" r="2.15"/>
<circle cx="803.0" cy="91.4" r="2.15"/>
<circle cx="803.9" cy="66.4" r="2.15"/>
<circle cx="804.2" cy="40.2" r="2.15"/>
<circle cx="804.4" cy="81.4" r="2.15"/>
<circle cx="804.4" cy="19.0" r="2.15"/>
<circle cx="804.6" cy="171.8" r="2.15"/>
<circle cx="805.0" cy="171.4" r="2.15"/>
<circle cx="805.5" cy="95.7" r="2.15"/>
<circle cx="806.4" cy="78.0" r="2.15"/>
<circle cx="806.6" cy="166.9" r="2.15"/>
<circle cx="806.6" cy="117.6" r="2.15"/>
<circle cx="806.6" cy="32.5" r="2.15"/>
<circle cx="807.1" cy="38.0" r="2.15"/>
<circle cx="807.7" cy="125.1" r="2.15"/>
<circle cx="808.1" cy="175.9" r="2.15"/>
<circle cx="808.5" cy="87.3" r="2.15"/>
<circle cx="809.4" cy="55.4" r="2.15"/>
<circle cx="809.7" cy="133.8" r="2.15"/>
<circle cx="809.7" cy="84.9" r="2.15"/>
<circle cx="810.0" cy="73.0" r="2.15"/>
<circle cx="810.1" cy="48.0" r="2.15"/>
<circle cx="810.2" cy="130.0" r="2.15"/>
<circle cx="810.6" cy="162.9" r="2.15"/>
<circle cx="810.6" cy="41.5" r="2.15"/>
<circle cx="810.7" cy="39.8" r="2.15"/>
<circle cx="810.9" cy="163.2" r="2.15"/>
<circle cx="810.9" cy="166.6" r="2.15"/>
<circle cx="811.8" cy="178.5" r="2.15"/>
<circle cx="811.9" cy="146.5" r="2.15"/>
<circle cx="812.0" cy="87.6" r="2.15"/>
<circle cx="812.9" cy="143.1" r="2.15"/>
<circle cx="813.9" cy="71.7" r="2.15"/>
<circle cx="814.1" cy="54.4" r="2.15"/>
<circle cx="814.1" cy="76.5" r="2.15"/>
<circle cx="814.4" cy="130.9" r="2.15"/>
<circle cx="814.4" cy="60.3" r="2.15"/>
<circle cx="814.6" cy="17.4" r="2.15"/>
<circle cx="815.9" cy="106.3" r="2.15"/>
<circle cx="816.2" cy="100.4" r="2.15"/>
<circle cx="816.3" cy="152.6" r="2.15"/>
<circle cx="816.6" cy="168.7" r="2.15"/>
<circle cx="818.0" cy="126.8" r="2.15"/>
<circle cx="818.0" cy="28.0" r="2.15"/>
<circle cx="818.4" cy="118.1" r="2.15"/>
<circle cx="818.5" cy="173.8" r="2.15"/>
<circle cx="819.3" cy="57.8" r="2.15"/>
<circle cx="819.7" cy="165.3" r="2.15"/>
<circle cx="819.8" cy="101.9" r="2.15"/>
<circle cx="819.9" cy="146.0" r="2.15"/>
<circle cx="820.3" cy="92.0" r="2.15"/>
<circle cx="820.6" cy="157.7" r="2.15"/>
<circle cx="820.9" cy="25.3" r="2.15"/>
<circle cx="821.8" cy="143.6" r="2.15"/>
<circle cx="822.1" cy="135.0" r="2.15"/>
<circle cx="822.2" cy="73.4" r="2.15"/>
<circle cx="822.5" cy="77.3" r="2.15"/>
<circle cx="822.7" cy="55.2" r="2.15"/>
<circle cx="823.5" cy="76.1" r="2.15"/>
<circle cx="823.6" cy="64.8" r="2.15"/>
<circle cx="823.8" cy="123.5" r="2.15"/>
<circle cx="823.8" cy="110.6" r="2.15"/>
<circle cx="823.8" cy="109.6" r="2.15"/>
<circle cx="824.1" cy="126.6" r="2.15"/>
<circle cx="824.1" cy="45.0" r="2.15"/>
<circle cx="825.4" cy="158.4" r="2.15"/>
<circle cx="825.7" cy="19.2" r="2.15"/>
<circle cx="826.1" cy="54.4" r="2.15"/>
<circle cx="827.0" cy="87.2" r="2.15"/>
<circle cx="827.2" cy="108.3" r="2.15"/>
<circle cx="828.0" cy="144.5" r="2.15"/>
<circle cx="829.7" cy="39.7" r="2.15"/>
<circle cx="829.9" cy="135.3" r="2.15"/>
<circle cx="829.9" cy="50.4" r="2.15"/>
<circle cx="831.4" cy="124.1" r="2.15"/>
<circle cx="831.6" cy="113.0" r="2.15"/>
<circle cx="831.7" cy="63.1" r="2.15"/>
<circle cx="831.9" cy="167.8" r="2.15"/>
<circle cx="832.5" cy="72.5" r="2.15"/>
<circle cx="832.5" cy="82.2" r="2.15"/>
<circle cx="833.0" cy="17.4" r="2.15"/>
<circle cx="833.5" cy="59.9" r="2.15"/>
<circle cx="834.1" cy="56.8" r="2.15"/>
<circle cx="834.1" cy="32.0" r="2.15"/>
<circle cx="834.3" cy="63.2" r="2.15"/>
<circle cx="834.7" cy="45.4" r="2.15"/>
<circle cx="835.0" cy="42.3" r="2.15"/>
<circle cx="835.2" cy="162.3" r="2.15"/>
<circle cx="835.2" cy="70.8" r="2.15"/>
<circle cx="835.4" cy="144.0" r="2.15"/>
<circle cx="835.4" cy="34.3" r="2.15"/>
<circle cx="837.0" cy="82.7" r="2.15"/>
<circle cx="837.0" cy="89.5" r="2.15"/>
<circle cx="837.2" cy="35.6" r="2.15"/>
<circle cx="837.5" cy="85.1" r="2.15"/>
<circle cx="837.9" cy="146.7" r="2.15"/>
<circle cx="838.5" cy="140.9" r="2.15"/>
<circle cx="838.6" cy="132.6" r="2.15"/>
<circle cx="838.7" cy="53.8" r="2.15"/>
<circle cx="840.1" cy="35.6" r="2.15"/>
<circle cx="840.2" cy="31.0" r="2.15"/>
<circle cx="840.9" cy="77.8" r="2.15"/>
<circle cx="841.0" cy="113.3" r="2.15"/>
<circle cx="841.7" cy="123.7" r="2.15"/>
<circle cx="841.7" cy="73.5" r="2.15"/>
<circle cx="842.2" cy="141.9" r="2.15"/>
<circle cx="842.4" cy="102.3" r="2.15"/>
<circle cx="842.7" cy="131.1" r="2.15"/>
<circle cx="842.7" cy="149.4" r="2.15"/>
<circle cx="843.0" cy="47.7" r="2.15"/>
<circle cx="843.4" cy="33.5" r="2.15"/>
<circle cx="843.5" cy="51.0" r="2.15"/>
<circle cx="843.6" cy="54.2" r="2.15"/>
<circle cx="844.0" cy="160.5" r="2.15"/>
<circle cx="844.2" cy="19.0" r="2.15"/>
<circle cx="844.3" cy="77.8" r="2.15"/>
<circle cx="844.9" cy="151.5" r="2.15"/>
<circle cx="845.3" cy="104.5" r="2.15"/>
<circle cx="845.3" cy="92.9" r="2.15"/>
<circle cx="845.6" cy="73.6" r="2.15"/>
<circle cx="845.8" cy="85.1" r="2.15"/>
<circle cx="847.8" cy="65.7" r="2.15"/>
<circle cx="848.5" cy="19.2" r="2.15"/>
<circle cx="850.6" cy="93.2" r="2.15"/>
<circle cx="851.2" cy="64.4" r="2.15"/>
<circle cx="851.9" cy="141.3" r="2.15"/>
<circle cx="852.2" cy="118.0" r="2.15"/>
<circle cx="852.3" cy="111.0" r="2.15"/>
<circle cx="852.9" cy="53.7" r="2.15"/>
<circle cx="853.6" cy="95.3" r="2.15"/>
<circle cx="853.7" cy="129.5" r="2.15"/>
<circle cx="853.7" cy="138.0" r="2.15"/>
<circle cx="853.7" cy="77.2" r="2.15"/>
<circle cx="853.8" cy="27.0" r="2.15"/>
<circle cx="854.1" cy="37.0" r="2.15"/>
<circle cx="854.6" cy="66.1" r="2.15"/>
<circle cx="854.9" cy="114.4" r="2.15"/>
<circle cx="856.2" cy="31.5" r="2.15"/>
<circle cx="856.3" cy="60.5" r="2.15"/>
<circle cx="856.5" cy="107.1" r="2.15"/>
<circle cx="856.5" cy="82.2" r="2.15"/>
<circle cx="856.9" cy="107.4" r="2.15"/>
<circle cx="857.1" cy="124.9" r="2.15"/>
<circle cx="857.2" cy="68.6" r="2.15"/>
<circle cx="857.3" cy="116.4" r="2.15"/>
<circle cx="857.4" cy="71.0" r="2.15"/>
<circle cx="857.7" cy="151.5" r="2.15"/>
<circle cx="859.5" cy="78.2" r="2.15"/>
<circle cx="859.7" cy="148.9" r="2.15"/>
<circle cx="860.7" cy="127.5" r="2.15"/>
<circle cx="861.1" cy="64.0" r="2.15"/>
<circle cx="862.2" cy="44.6" r="2.15"/>
<circle cx="862.4" cy="142.9" r="2.15"/>
<circle cx="862.4" cy="30.8" r="2.15"/>
<circle cx="862.8" cy="100.9" r="2.15"/>
<circle cx="863.7" cy="85.1" r="2.15"/>
<circle cx="864.0" cy="137.7" r="2.15"/>
</g>
<g fill="#ff0000">
<path d="M618.9 272.1l2.4 5.0h-4.8z"/>
<path d="M616.5 276.6l2.4 5.0h-4.8z"/>
<path d="M624.5 273.0l2.4 5.0h-4.8z"/>
<path d="M623.8 274.5l2.4 5.0h-4.8z"/>
<path d="M628.2 270.8l2.4 5.0h-4.8z"/>
<path d="M632.0 269.4l2.4 5.0h-4.8z"/>
<path d="M626.4 276.5l2.4 5.0h-4.8z"/>
<path d="M640.8 259.9l2.4 5.0h-4.8z"/>
<path d="M641.9 263.3l2.4 5.0h-4.8z"/>
<path d="M652.1 247.5l2.4 5.0h-4.8z"/>
<path d="M658.9 247.1l2.4 5.0h-4.8z"/>
<path d="M659.7 251.4l2.4 5.0h-4.8z"/>
<path d="M661.2 241.1l2.4 5.0h-4.8z"/>
<path d="M644.6 238.9l2.4 5.0h-4.8z"/>
<path d="M676.0 241.5l2.4 5.0h-4.8z"/>
<path d="M672.1 199.7l2.4 5.0h-4.8z"/>
<path d="M678.2 200.8l2.4 5.0h-4.8z"/>
<path d="M668.5 204.9l2.4 5.0h-4.8z"/>
<path d="M670.9 207.3l2.4 5.0h-4.8z"/>
<path d="M676.4 205.8l2.4 5.0h-4.8z"/>
<path d="M678.7 205.4l2.4 5.0h-4.8z"/>
<path d="M691.0 209.0l2.4 5.0h-4.8z"/>
<path d="M671.6 212.3l2.4 5.0h-4.8z"/>
<path d="M671.9 214.1l2.4 5.0h-4.8z"/>
<path d="M681.8 213.1l2.4 5.0h-4.8z"/>
<path d="M668.8 218.8l2.4 5.0h-4.8z"/>
<path d="M680.6 219.4l2.4 5.0h-4.8z"/>
<path d="M684.5 219.1l2.4 5.0h-4.8z"/>
<path d="M689.0 219.6l2.4 5.0h-4.8z"/>
<path d="M698.1 220.4l2.4 5.0h-4.8z"/>
<path d="M699.6 222.9l2.4 5.0h-4.8z"/>
<path d="M693.2 222.3l2.4 5.0h-4.8z"/>
<path d="M660.4 223.8l2.4 5.0h-4.8z"/>
<path d="M661.7 224.8l2.4 5.0h-4.8z"/>
<path d="M673.5 223.5l2.4 5.0h-4.8z"/>
<path d="M673.8 226.2l2.4 5.0h-4.8z"/>
<path d="M669.7 224.8l2.4 5.0h-4.8z"/>
<path d="M667.5 226.9l2.4 5.0h-4.8z"/>
<path d="M686.4 224.3l2.4 5.0h-4.8z"/>
<path d="M689.1 228.2l2.4 5.0h-4.8z"/>
<path d="M686.4 229.6l2.4 5.0h-4.8z"/>
<path d="M685.0 232.1l2.4 5.0h-4.8z"/>
<path d="M657.8 229.1l2.4 5.0h-4.8z"/>
<path d="M659.7 229.6l2.4 5.0h-4.8z"/>
<path d="M676.7 232.1l2.4 5.0h-4.8z"/>
<path d="M680.4 233.0l2.4 5.0h-4.8z"/>
<path d="M673.3 234.7l2.4 5.0h-4.8z"/>
<path d="M704.6 206.3l2.4 5.0h-4.8z"/>
<path d="M714.6 202.0l2.4 5.0h-4.8z"/>
<path d="M715.7 199.5l2.4 5.0h-4.8z"/>
<path d="M725.9 203.2l2.4 5.0h-4.8z"/>
<path d="M697.7 162.6l2.4 5.0h-4.8z"/>
<path d="M698.2 165.4l2.4 5.0h-4.8z"/>
<path d="M702.5 167.8l2.4 5.0h-4.8z"/>
<path d="M699.6 171.0l2.4 5.0h-4.8z"/>
<path d="M710.1 166.8l2.4 5.0h-4.8z"/>
<path d="M715.8 164.9l2.4 5.0h-4.8z"/>
<path d="M711.8 168.8l2.4 5.0h-4.8z"/>
<path d="M715.0 168.8l2.4 5.0h-4.8z"/>
<path d="M720.8 169.3l2.4 5.0h-4.8z"/>
<path d="M686.7 175.3l2.4 5.0h-4.8z"/>
<path d="M691.1 174.1l2.4 5.0h-4.8z"/>
<path d="M689.0 178.9l2.4 5.0h-4.8z"/>
<path d="M703.5 179.4l2.4 5.0h-4.8z"/>
<path d="M705.9 179.1l2.4 5.0h-4.8z"/>
<path d="M709.1 178.0l2.4 5.0h-4.8z"/>
<path d="M703.5 184.8l2.4 5.0h-4.8z"/>
<path d="M704.0 185.9l2.4 5.0h-4.8z"/>
<path d="M685.1 185.7l2.4 5.0h-4.8z"/>
<path d="M682.9 186.9l2.4 5.0h-4.8z"/>
<path d="M694.6 186.7l2.4 5.0h-4.8z"/>
<path d="M690.7 189.1l2.4 5.0h-4.8z"/>
<path d="M690.9 191.1l2.4 5.0h-4.8z"/>
<path d="M677.8 189.6l2.4 5.0h-4.8z"/>
<path d="M682.2 195.0l2.4 5.0h-4.8z"/>
<path d="M683.6 196.9l2.4 5.0h-4.8z"/>
<path d="M701.6 195.0l2.4 5.0h-4.8z"/>
<path d="M708.6 195.3l2.4 5.0h-4.8z"/>
<path d="M716.4 197.2l2.4 5.0h-4.8z"/>
<path d="M732.6 160.5l2.4 5.0h-4.8z"/>
<path d="M731.7 163.9l2.4 5.0h-4.8z"/>
<path d="M750.6 159.2l2.4 5.0h-4.8z"/>
<path d="M771.3 161.2l2.4 5.0h-4.8z"/>
<path d="M740.1 164.9l2.4 5.0h-4.8z"/>
<path d="M740.9 166.3l2.4 5.0h-4.8z"/>
<path d="M727.6 171.2l2.4 5.0h-4.8z"/>
<path d="M739.4 171.7l2.4 5.0h-4.8z"/>
<path d="M740.4 172.2l2.4 5.0h-4.8z"/>
<path d="M749.9 172.3l2.4 5.0h-4.8z"/>
<path d="M754.7 170.2l2.4 5.0h-4.8z"/>
<path d="M759.5 171.7l2.4 5.0h-4.8z"/>
<path d="M754.0 176.0l2.4 5.0h-4.8z"/>
<path d="M729.7 177.0l2.4 5.0h-4.8z"/>
<path d="M747.7 177.0l2.4 5.0h-4.8z"/>
<path d="M727.3 179.4l2.4 5.0h-4.8z"/>
<path d="M727.6 181.4l2.4 5.0h-4.8z"/>
<path d="M747.2 178.9l2.4 5.0h-4.8z"/>
<path d="M743.6 181.4l2.4 5.0h-4.8z"/>
<path d="M736.5 183.3l2.4 5.0h-4.8z"/>
<path d="M722.9 184.8l2.4 5.0h-4.8z"/>
<path d="M743.8 186.2l2.4 5.0h-4.8z"/>
<path d="M727.0 189.4l2.4 5.0h-4.8z"/>
<path d="M728.3 189.4l2.4 5.0h-4.8z"/>
<path d="M722.9 196.9l2.4 5.0h-4.8z"/>
<path d="M719.2 121.5l2.4 5.0h-4.8z"/>
<path d="M729.9 123.4l2.4 5.0h-4.8z"/>
<path d="M726.5 125.4l2.4 5.0h-4.8z"/>
<path d="M726.0 128.8l2.4 5.0h-4.8z"/>
<path d="M741.2 127.3l2.4 5.0h-4.8z"/>
<path d="M738.1 119.5l2.4 5.0h-4.8z"/>
<path d="M740.0 120.0l2.4 5.0h-4.8z"/>
<path d="M731.8 131.0l2.4 5.0h-4.8z"/>
<path d="M734.3 131.4l2.4 5.0h-4.8z"/>
<path d="M735.7 132.6l2.4 5.0h-4.8z"/>
<path d="M711.9 130.7l2.4 5.0h-4.8z"/>
<path d="M705.9 138.0l2.4 5.0h-4.8z"/>
<path d="M710.5 138.3l2.4 5.0h-4.8z"/>
<path d="M712.4 138.3l2.4 5.0h-4.8z"/>
<path d="M717.0 138.2l2.4 5.0h-4.8z"/>
<path d="M736.9 141.9l2.4 5.0h-4.8z"/>
<path d="M718.7 145.3l2.4 5.0h-4.8z"/>
<path d="M719.2 146.2l2.4 5.0h-4.8z"/>
<path d="M703.5 146.5l2.4 5.0h-4.8z"/>
<path d="M731.5 146.7l2.4 5.0h-4.8z"/>
<path d="M735.7 145.3l2.4 5.0h-4.8z"/>
<path d="M736.2 147.2l2.4 5.0h-4.8z"/>
<path d="M733.3 149.1l2.4 5.0h-4.8z"/>
<path d="M719.2 151.6l2.4 5.0h-4.8z"/>
<path d="M731.3 151.6l2.4 5.0h-4.8z"/>
<path d="M741.0 153.0l2.4 5.0h-4.8z"/>
<path d="M738.1 155.0l2.4 5.0h-4.8z"/>
<path d="M699.8 152.5l2.4 5.0h-4.8z"/>
<path d="M698.8 154.0l2.4 5.0h-4.8z"/>
<path d="M704.8 154.0l2.4 5.0h-4.8z"/>
<path d="M710.0 152.5l2.4 5.0h-4.8z"/>
<path d="M724.5 153.5l2.4 5.0h-4.8z"/>
<path d="M703.0 157.4l2.4 5.0h-4.8z"/>
<path d="M743.5 120.7l2.4 5.0h-4.8z"/>
<path d="M757.0 124.4l2.4 5.0h-4.8z"/>
<path d="M753.9 126.8l2.4 5.0h-4.8z"/>
<path d="M761.4 126.3l2.4 5.0h-4.8z"/>
<path d="M757.5 128.8l2.4 5.0h-4.8z"/>
<path d="M750.9 130.2l2.4 5.0h-4.8z"/>
<path d="M767.7 124.4l2.4 5.0h-4.8z"/>
<path d="M768.2 125.4l2.4 5.0h-4.8z"/>
<path d="M769.0 129.7l2.4 5.0h-4.8z"/>
<path d="M772.1 132.6l2.4 5.0h-4.8z"/>
<path d="M772.6 133.6l2.4 5.0h-4.8z"/>
<path d="M767.0 133.6l2.4 5.0h-4.8z"/>
<path d="M760.4 135.3l2.4 5.0h-4.8z"/>
<path d="M776.7 121.5l2.4 5.0h-4.8z"/>
<path d="M782.0 123.4l2.4 5.0h-4.8z"/>
<path d="M784.7 124.4l2.4 5.0h-4.8z"/>
<path d="M789.6 125.4l2.4 5.0h-4.8z"/>
<path d="M792.0 122.0l2.4 5.0h-4.8z"/>
<path d="M795.2 126.3l2.4 5.0h-4.8z"/>
<path d="M787.1 129.7l2.4 5.0h-4.8z"/>
<path d="M807.7 123.6l2.4 5.0h-4.8z"/>
<path d="M802.6 131.9l2.4 5.0h-4.8z"/>
<path d="M794.2 140.9l2.4 5.0h-4.8z"/>
<path d="M790.3 145.3l2.4 5.0h-4.8z"/>
<path d="M779.9 145.3l2.4 5.0h-4.8z"/>
<path d="M781.3 149.1l2.4 5.0h-4.8z"/>
<path d="M746.4 143.8l2.4 5.0h-4.8z"/>
<path d="M746.4 148.7l2.4 5.0h-4.8z"/>
<path d="M753.9 143.3l2.4 5.0h-4.8z"/>
<path d="M758.0 142.6l2.4 5.0h-4.8z"/>
<path d="M768.2 143.8l2.4 5.0h-4.8z"/>
<path d="M770.2 144.8l2.4 5.0h-4.8z"/>
<path d="M770.2 148.2l2.4 5.0h-4.8z"/>
<path d="M758.0 153.0l2.4 5.0h-4.8z"/>
<path d="M765.0 152.1l2.4 5.0h-4.8z"/>
<path d="M769.7 154.0l2.4 5.0h-4.8z"/>
<path d="M768.2 156.4l2.4 5.0h-4.8z"/>
<path d="M774.7 153.0l2.4 5.0h-4.8z"/>
<path d="M785.2 153.5l2.4 5.0h-4.8z"/>
<path d="M802.4 117.6l2.4 5.0h-4.8z"/>
<path d="M806.6 116.1l2.4 5.0h-4.8z"/>
<path d="M818.4 116.6l2.4 5.0h-4.8z"/>
<path d="M810.2 128.5l2.4 5.0h-4.8z"/>
<path d="M823.8 109.1l2.4 5.0h-4.8z"/>
<path d="M745.1 95.8l2.4 5.0h-4.8z"/>
<path d="M753.4 98.2l2.4 5.0h-4.8z"/>
<path d="M764.7 92.1l2.4 5.0h-4.8z"/>
<path d="M738.8 102.1l2.4 5.0h-4.8z"/>
<path d="M755.5 103.3l2.4 5.0h-4.8z"/>
<path d="M751.5 107.2l2.4 5.0h-4.8z"/>
<path d="M762.3 107.0l2.4 5.0h-4.8z"/>
<path d="M759.7 109.4l2.4 5.0h-4.8z"/>
<path d="M736.4 108.7l2.4 5.0h-4.8z"/>
<path d="M740.8 110.8l2.4 5.0h-4.8z"/>
<path d="M761.5 114.5l2.4 5.0h-4.8z"/>
<path d="M737.4 115.5l2.4 5.0h-4.8z"/>
<path d="M734.0 117.9l2.4 5.0h-4.8z"/>
<path d="M740.3 118.8l2.4 5.0h-4.8z"/>
<path d="M770.3 82.9l2.4 5.0h-4.8z"/>
<path d="M771.5 80.8l2.4 5.0h-4.8z"/>
<path d="M775.2 81.1l2.4 5.0h-4.8z"/>
<path d="M776.6 83.7l2.4 5.0h-4.8z"/>
<path d="M778.7 87.4l2.4 5.0h-4.8z"/>
<path d="M780.6 88.0l2.4 5.0h-4.8z"/>
<path d="M793.6 85.1l2.4 5.0h-4.8z"/>
<path d="M804.4 79.9l2.4 5.0h-4.8z"/>
<path d="M809.7 83.4l2.4 5.0h-4.8z"/>
<path d="M808.5 85.8l2.4 5.0h-4.8z"/>
<path d="M812.0 86.1l2.4 5.0h-4.8z"/>
<path d="M803.0 89.9l2.4 5.0h-4.8z"/>
<path d="M805.5 94.2l2.4 5.0h-4.8z"/>
<path d="M827.0 85.7l2.4 5.0h-4.8z"/>
<path d="M820.3 90.5l2.4 5.0h-4.8z"/>
<path d="M773.5 92.0l2.4 5.0h-4.8z"/>
<path d="M768.8 98.0l2.4 5.0h-4.8z"/>
<path d="M777.5 98.9l2.4 5.0h-4.8z"/>
<path d="M782.4 98.0l2.4 5.0h-4.8z"/>
<path d="M786.8 100.9l2.4 5.0h-4.8z"/>
<path d="M791.1 100.4l2.4 5.0h-4.8z"/>
<path d="M786.3 105.7l2.4 5.0h-4.8z"/>
<path d="M816.2 98.9l2.4 5.0h-4.8z"/>
<path d="M819.8 100.4l2.4 5.0h-4.8z"/>
<path d="M815.9 104.8l2.4 5.0h-4.8z"/>
<path d="M823.8 108.1l2.4 5.0h-4.8z"/>
<path d="M827.2 106.8l2.4 5.0h-4.8z"/>
<path d="M773.8 112.1l2.4 5.0h-4.8z"/>
<path d="M788.4 111.4l2.4 5.0h-4.8z"/>
<path d="M771.2 116.9l2.4 5.0h-4.8z"/>
<path d="M787.2 117.4l2.4 5.0h-4.8z"/>
<path d="M797.9 115.0l2.4 5.0h-4.8z"/>
<path d="M823.5 74.6l2.4 5.0h-4.8z"/>
<path d="M832.5 71.0l2.4 5.0h-4.8z"/>
<path d="M835.2 69.3l2.4 5.0h-4.8z"/>
<path d="M841.7 72.0l2.4 5.0h-4.8z"/>
<path d="M845.6 72.1l2.4 5.0h-4.8z"/>
<path d="M840.9 76.3l2.4 5.0h-4.8z"/>
<path d="M844.3 76.3l2.4 5.0h-4.8z"/>
<path d="M853.7 75.7l2.4 5.0h-4.8z"/>
<path d="M859.5 76.7l2.4 5.0h-4.8z"/>
<path d="M856.5 80.7l2.4 5.0h-4.8z"/>
<path d="M857.4 69.5l2.4 5.0h-4.8z"/>
<path d="M832.5 80.7l2.4 5.0h-4.8z"/>
<path d="M837.0 81.2l2.4 5.0h-4.8z"/>
<path d="M837.5 83.6l2.4 5.0h-4.8z"/>
<path d="M845.8 83.6l2.4 5.0h-4.8z"/>
<path d="M837.0 88.0l2.4 5.0h-4.8z"/>
<path d="M845.3 91.4l2.4 5.0h-4.8z"/>
<path d="M778.1 55.5l2.4 5.0h-4.8z"/>
<path d="M780.1 56.5l2.4 5.0h-4.8z"/>
<path d="M772.5 61.4l2.4 5.0h-4.8z"/>
<path d="M773.2 63.4l2.4 5.0h-4.8z"/>
<path d="M782.7 66.9l2.4 5.0h-4.8z"/>
<path d="M769.4 74.1l2.4 5.0h-4.8z"/>
<path d="M774.6 73.8l2.4 5.0h-4.8z"/>
<path d="M763.1 76.4l2.4 5.0h-4.8z"/>
<path d="M768.9 79.3l2.4 5.0h-4.8z"/>
<path d="M789.7 39.0l2.4 5.0h-4.8z"/>
<path d="M784.2 41.7l2.4 5.0h-4.8z"/>
<path d="M788.0 45.8l2.4 5.0h-4.8z"/>
<path d="M790.1 50.5l2.4 5.0h-4.8z"/>
<path d="M782.9 52.9l2.4 5.0h-4.8z"/>
<path d="M792.6 56.8l2.4 5.0h-4.8z"/>
<path d="M790.6 59.7l2.4 5.0h-4.8z"/>
<path d="M786.8 64.7l2.4 5.0h-4.8z"/>
<path d="M788.3 70.9l2.4 5.0h-4.8z"/>
<path d="M791.2 73.4l2.4 5.0h-4.8z"/>
<path d="M804.2 38.7l2.4 5.0h-4.8z"/>
<path d="M807.1 36.5l2.4 5.0h-4.8z"/>
<path d="M810.7 38.3l2.4 5.0h-4.8z"/>
<path d="M810.6 40.0l2.4 5.0h-4.8z"/>
<path d="M800.5 44.0l2.4 5.0h-4.8z"/>
<path d="M810.1 46.5l2.4 5.0h-4.8z"/>
<path d="M809.4 53.9l2.4 5.0h-4.8z"/>
<path d="M814.1 52.9l2.4 5.0h-4.8z"/>
<path d="M814.4 58.8l2.4 5.0h-4.8z"/>
<path d="M801.8 61.2l2.4 5.0h-4.8z"/>
<path d="M803.9 64.9l2.4 5.0h-4.8z"/>
<path d="M801.0 67.4l2.4 5.0h-4.8z"/>
<path d="M810.0 71.5l2.4 5.0h-4.8z"/>
<path d="M813.9 70.2l2.4 5.0h-4.8z"/>
<path d="M819.3 56.3l2.4 5.0h-4.8z"/>
<path d="M822.7 53.7l2.4 5.0h-4.8z"/>
<path d="M826.1 52.9l2.4 5.0h-4.8z"/>
<path d="M824.1 43.5l2.4 5.0h-4.8z"/>
<path d="M829.7 38.2l2.4 5.0h-4.8z"/>
<path d="M835.0 40.8l2.4 5.0h-4.8z"/>
<path d="M834.7 43.9l2.4 5.0h-4.8z"/>
<path d="M829.9 48.9l2.4 5.0h-4.8z"/>
<path d="M838.7 52.3l2.4 5.0h-4.8z"/>
<path d="M843.0 46.2l2.4 5.0h-4.8z"/>
<path d="M843.5 49.5l2.4 5.0h-4.8z"/>
<path d="M843.6 52.7l2.4 5.0h-4.8z"/>
<path d="M834.1 55.3l2.4 5.0h-4.8z"/>
<path d="M833.5 58.4l2.4 5.0h-4.8z"/>
<path d="M831.7 61.6l2.4 5.0h-4.8z"/>
<path d="M834.3 61.7l2.4 5.0h-4.8z"/>
<path d="M823.6 63.3l2.4 5.0h-4.8z"/>
<path d="M822.2 71.9l2.4 5.0h-4.8z"/>
<path d="M786.9 76.1l2.4 5.0h-4.8z"/>
<path d="M814.1 75.0l2.4 5.0h-4.8z"/>
<path d="M806.4 76.5l2.4 5.0h-4.8z"/>
<path d="M822.5 75.8l2.4 5.0h-4.8z"/>
<path d="M853.8 25.5l2.4 5.0h-4.8z"/>
<path d="M856.2 30.0l2.4 5.0h-4.8z"/>
<path d="M854.1 35.5l2.4 5.0h-4.8z"/>
<path d="M862.4 29.3l2.4 5.0h-4.8z"/>
<path d="M862.2 43.1l2.4 5.0h-4.8z"/>
<path d="M834.1 30.5l2.4 5.0h-4.8z"/>
<path d="M837.2 34.1l2.4 5.0h-4.8z"/>
<path d="M840.2 29.5l2.4 5.0h-4.8z"/>
<path d="M840.1 34.1l2.4 5.0h-4.8z"/>
<path d="M843.4 32.0l2.4 5.0h-4.8z"/>
<path d="M852.9 52.2l2.4 5.0h-4.8z"/>
<path d="M856.3 59.0l2.4 5.0h-4.8z"/>
<path d="M851.2 62.9l2.4 5.0h-4.8z"/>
<path d="M847.8 64.2l2.4 5.0h-4.8z"/>
<path d="M854.6 64.6l2.4 5.0h-4.8z"/>
<path d="M857.2 67.1l2.4 5.0h-4.8z"/>
<path d="M861.1 62.5l2.4 5.0h-4.8z"/>
<path d="M820.9 23.8l2.4 5.0h-4.8z"/>
<path d="M818.0 26.5l2.4 5.0h-4.8z"/>
<path d="M806.6 31.0l2.4 5.0h-4.8z"/>
<path d="M835.4 32.8l2.4 5.0h-4.8z"/>
<path d="M794.6 27.0l2.4 5.0h-4.8z"/>
<path d="M804.4 17.5l2.4 5.0h-4.8z"/>
<path d="M814.6 15.9l2.4 5.0h-4.8z"/>
<path d="M825.7 17.7l2.4 5.0h-4.8z"/>
<path d="M833.0 15.9l2.4 5.0h-4.8z"/>
<path d="M844.2 17.5l2.4 5.0h-4.8z"/>
<path d="M848.5 17.7l2.4 5.0h-4.8z"/>
</g>
<line x1="765.60" y1="18.60" x2="765.60" y2="348.90" stroke="#ff0000" stroke-width="1.6" stroke-dasharray="6.6 3.34"/>
<line x1="534.30" y1="348.90" x2="534.30" y2="345.50" stroke="#000" stroke-width="1.5" />
<line x1="534.30" y1="18.60" x2="534.30" y2="22.00" stroke="#000" stroke-width="1.5" />
<line x1="545.32" y1="348.90" x2="545.32" y2="346.60" stroke="#000" stroke-width="1.5" />
<line x1="545.32" y1="18.60" x2="545.32" y2="20.90" stroke="#000" stroke-width="1.5" />
<line x1="556.33" y1="348.90" x2="556.33" y2="346.60" stroke="#000" stroke-width="1.5" />
<line x1="556.33" y1="18.60" x2="556.33" y2="20.90" stroke="#000" stroke-width="1.5" />
<line x1="567.35" y1="348.90" x2="567.35" y2="346.60" stroke="#000" stroke-width="1.5" />
<line x1="567.35" y1="18.60" x2="567.35" y2="20.90" stroke="#000" stroke-width="1.5" />
<line x1="578.36" y1="348.90" x2="578.36" y2="346.60" stroke="#000" stroke-width="1.5" />
<line x1="578.36" y1="18.60" x2="578.36" y2="20.90" stroke="#000" stroke-width="1.5" />
<line x1="589.38" y1="348.90" x2="589.38" y2="345.50" stroke="#000" stroke-width="1.5" />
<line x1="589.38" y1="18.60" x2="589.38" y2="22.00" stroke="#000" stroke-width="1.5" />
<line x1="600.40" y1="348.90" x2="600.40" y2="346.60" stroke="#000" stroke-width="1.5" />
<line x1="600.40" y1="18.60" x2="600.40" y2="20.90" stroke="#000" stroke-width="1.5" />
<line x1="611.41" y1="348.90" x2="611.41" y2="346.60" stroke="#000" stroke-width="1.5" />
<line x1="611.41" y1="18.60" x2="611.41" y2="20.90" stroke="#000" stroke-width="1.5" />
<line x1="622.43" y1="348.90" x2="622.43" y2="346.60" stroke="#000" stroke-width="1.5" />
<line x1="622.43" y1="18.60" x2="622.43" y2="20.90" stroke="#000" stroke-width="1.5" />
<line x1="633.44" y1="348.90" x2="633.44" y2="346.60" stroke="#000" stroke-width="1.5" />
<line x1="633.44" y1="18.60" x2="633.44" y2="20.90" stroke="#000" stroke-width="1.5" />
<line x1="644.46" y1="348.90" x2="644.46" y2="345.50" stroke="#000" stroke-width="1.5" />
<line x1="644.46" y1="18.60" x2="644.46" y2="22.00" stroke="#000" stroke-width="1.5" />
<line x1="655.48" y1="348.90" x2="655.48" y2="346.60" stroke="#000" stroke-width="1.5" />
<line x1="655.48" y1="18.60" x2="655.48" y2="20.90" stroke="#000" stroke-width="1.5" />
<line x1="666.49" y1="348.90" x2="666.49" y2="346.60" stroke="#000" stroke-width="1.5" />
<line x1="666.49" y1="18.60" x2="666.49" y2="20.90" stroke="#000" stroke-width="1.5" />
<line x1="677.51" y1="348.90" x2="677.51" y2="346.60" stroke="#000" stroke-width="1.5" />
<line x1="677.51" y1="18.60" x2="677.51" y2="20.90" stroke="#000" stroke-width="1.5" />
<line x1="688.52" y1="348.90" x2="688.52" y2="346.60" stroke="#000" stroke-width="1.5" />
<line x1="688.52" y1="18.60" x2="688.52" y2="20.90" stroke="#000" stroke-width="1.5" />
<line x1="699.54" y1="348.90" x2="699.54" y2="345.50" stroke="#000" stroke-width="1.5" />
<line x1="699.54" y1="18.60" x2="699.54" y2="22.00" stroke="#000" stroke-width="1.5" />
<line x1="710.56" y1="348.90" x2="710.56" y2="346.60" stroke="#000" stroke-width="1.5" />
<line x1="710.56" y1="18.60" x2="710.56" y2="20.90" stroke="#000" stroke-width="1.5" />
<line x1="721.57" y1="348.90" x2="721.57" y2="346.60" stroke="#000" stroke-width="1.5" />
<line x1="721.57" y1="18.60" x2="721.57" y2="20.90" stroke="#000" stroke-width="1.5" />
<line x1="732.59" y1="348.90" x2="732.59" y2="346.60" stroke="#000" stroke-width="1.5" />
<line x1="732.59" y1="18.60" x2="732.59" y2="20.90" stroke="#000" stroke-width="1.5" />
<line x1="743.60" y1="348.90" x2="743.60" y2="346.60" stroke="#000" stroke-width="1.5" />
<line x1="743.60" y1="18.60" x2="743.60" y2="20.90" stroke="#000" stroke-width="1.5" />
<line x1="754.62" y1="348.90" x2="754.62" y2="345.50" stroke="#000" stroke-width="1.5" />
<line x1="754.62" y1="18.60" x2="754.62" y2="22.00" stroke="#000" stroke-width="1.5" />
<line x1="765.64" y1="348.90" x2="765.64" y2="346.60" stroke="#000" stroke-width="1.5" />
<line x1="765.64" y1="18.60" x2="765.64" y2="20.90" stroke="#000" stroke-width="1.5" />
<line x1="776.65" y1="348.90" x2="776.65" y2="346.60" stroke="#000" stroke-width="1.5" />
<line x1="776.65" y1="18.60" x2="776.65" y2="20.90" stroke="#000" stroke-width="1.5" />
<line x1="787.67" y1="348.90" x2="787.67" y2="346.60" stroke="#000" stroke-width="1.5" />
<line x1="787.67" y1="18.60" x2="787.67" y2="20.90" stroke="#000" stroke-width="1.5" />
<line x1="798.68" y1="348.90" x2="798.68" y2="346.60" stroke="#000" stroke-width="1.5" />
<line x1="798.68" y1="18.60" x2="798.68" y2="20.90" stroke="#000" stroke-width="1.5" />
<line x1="809.70" y1="348.90" x2="809.70" y2="345.50" stroke="#000" stroke-width="1.5" />
<line x1="809.70" y1="18.60" x2="809.70" y2="22.00" stroke="#000" stroke-width="1.5" />
<line x1="820.72" y1="348.90" x2="820.72" y2="346.60" stroke="#000" stroke-width="1.5" />
<line x1="820.72" y1="18.60" x2="820.72" y2="20.90" stroke="#000" stroke-width="1.5" />
<line x1="831.73" y1="348.90" x2="831.73" y2="346.60" stroke="#000" stroke-width="1.5" />
<line x1="831.73" y1="18.60" x2="831.73" y2="20.90" stroke="#000" stroke-width="1.5" />
<line x1="842.75" y1="348.90" x2="842.75" y2="346.60" stroke="#000" stroke-width="1.5" />
<line x1="842.75" y1="18.60" x2="842.75" y2="20.90" stroke="#000" stroke-width="1.5" />
<line x1="853.76" y1="348.90" x2="853.76" y2="346.60" stroke="#000" stroke-width="1.5" />
<line x1="853.76" y1="18.60" x2="853.76" y2="20.90" stroke="#000" stroke-width="1.5" />
<line x1="864.78" y1="348.90" x2="864.78" y2="345.50" stroke="#000" stroke-width="1.5" />
<line x1="864.78" y1="18.60" x2="864.78" y2="22.00" stroke="#000" stroke-width="1.5" />
<line x1="534.30" y1="348.80" x2="537.70" y2="348.80" stroke="#000" stroke-width="1.5" />
<line x1="864.90" y1="348.80" x2="861.50" y2="348.80" stroke="#000" stroke-width="1.5" />
<line x1="534.30" y1="332.29" x2="536.60" y2="332.29" stroke="#000" stroke-width="1.5" />
<line x1="864.90" y1="332.29" x2="862.60" y2="332.29" stroke="#000" stroke-width="1.5" />
<line x1="534.30" y1="315.77" x2="536.60" y2="315.77" stroke="#000" stroke-width="1.5" />
<line x1="864.90" y1="315.77" x2="862.60" y2="315.77" stroke="#000" stroke-width="1.5" />
<line x1="534.30" y1="299.25" x2="536.60" y2="299.25" stroke="#000" stroke-width="1.5" />
<line x1="864.90" y1="299.25" x2="862.60" y2="299.25" stroke="#000" stroke-width="1.5" />
<line x1="534.30" y1="282.74" x2="537.70" y2="282.74" stroke="#000" stroke-width="1.5" />
<line x1="864.90" y1="282.74" x2="861.50" y2="282.74" stroke="#000" stroke-width="1.5" />
<line x1="534.30" y1="266.23" x2="536.60" y2="266.23" stroke="#000" stroke-width="1.5" />
<line x1="864.90" y1="266.23" x2="862.60" y2="266.23" stroke="#000" stroke-width="1.5" />
<line x1="534.30" y1="249.71" x2="536.60" y2="249.71" stroke="#000" stroke-width="1.5" />
<line x1="864.90" y1="249.71" x2="862.60" y2="249.71" stroke="#000" stroke-width="1.5" />
<line x1="534.30" y1="233.19" x2="536.60" y2="233.19" stroke="#000" stroke-width="1.5" />
<line x1="864.90" y1="233.19" x2="862.60" y2="233.19" stroke="#000" stroke-width="1.5" />
<line x1="534.30" y1="216.68" x2="537.70" y2="216.68" stroke="#000" stroke-width="1.5" />
<line x1="864.90" y1="216.68" x2="861.50" y2="216.68" stroke="#000" stroke-width="1.5" />
<line x1="534.30" y1="200.16" x2="536.60" y2="200.16" stroke="#000" stroke-width="1.5" />
<line x1="864.90" y1="200.16" x2="862.60" y2="200.16" stroke="#000" stroke-width="1.5" />
<line x1="534.30" y1="183.65" x2="536.60" y2="183.65" stroke="#000" stroke-width="1.5" />
<line x1="864.90" y1="183.65" x2="862.60" y2="183.65" stroke="#000" stroke-width="1.5" />
<line x1="534.30" y1="167.13" x2="536.60" y2="167.13" stroke="#000" stroke-width="1.5" />
<line x1="864.90" y1="167.13" x2="862.60" y2="167.13" stroke="#000" stroke-width="1.5" />
<line x1="534.30" y1="150.62" x2="537.70" y2="150.62" stroke="#000" stroke-width="1.5" />
<line x1="864.90" y1="150.62" x2="861.50" y2="150.62" stroke="#000" stroke-width="1.5" />
<line x1="534.30" y1="134.10" x2="536.60" y2="134.10" stroke="#000" stroke-width="1.5" />
<line x1="864.90" y1="134.10" x2="862.60" y2="134.10" stroke="#000" stroke-width="1.5" />
<line x1="534.30" y1="117.59" x2="536.60" y2="117.59" stroke="#000" stroke-width="1.5" />
<line x1="864.90" y1="117.59" x2="862.60" y2="117.59" stroke="#000" stroke-width="1.5" />
<line x1="534.30" y1="101.07" x2="536.60" y2="101.07" stroke="#000" stroke-width="1.5" />
<line x1="864.90" y1="101.07" x2="862.60" y2="101.07" stroke="#000" stroke-width="1.5" />
<line x1="534.30" y1="84.56" x2="537.70" y2="84.56" stroke="#000" stroke-width="1.5" />
<line x1="864.90" y1="84.56" x2="861.50" y2="84.56" stroke="#000" stroke-width="1.5" />
<line x1="534.30" y1="68.04" x2="536.60" y2="68.04" stroke="#000" stroke-width="1.5" />
<line x1="864.90" y1="68.04" x2="862.60" y2="68.04" stroke="#000" stroke-width="1.5" />
<line x1="534.30" y1="51.53" x2="536.60" y2="51.53" stroke="#000" stroke-width="1.5" />
<line x1="864.90" y1="51.53" x2="862.60" y2="51.53" stroke="#000" stroke-width="1.5" />
<line x1="534.30" y1="35.01" x2="536.60" y2="35.01" stroke="#000" stroke-width="1.5" />
<line x1="864.90" y1="35.01" x2="862.60" y2="35.01" stroke="#000" stroke-width="1.5" />
<line x1="534.30" y1="18.50" x2="537.70" y2="18.50" stroke="#000" stroke-width="1.5" />
<line x1="864.90" y1="18.50" x2="861.50" y2="18.50" stroke="#000" stroke-width="1.5" />
<rect x="534.3" y="18.6" width="330.6" height="330.29999999999995" fill="none" stroke="#000" stroke-width="1.7"/>
<text x="534.30" y="363.40" font-size="12.1" font-weight="bold" font-style="normal" fill="#000" text-anchor="middle" >400</text>
<text x="589.38" y="363.40" font-size="12.1" font-weight="bold" font-style="normal" fill="#000" text-anchor="middle" >500</text>
<text x="644.46" y="363.40" font-size="12.1" font-weight="bold" font-style="normal" fill="#000" text-anchor="middle" >600</text>
<text x="699.54" y="363.40" font-size="12.1" font-weight="bold" font-style="normal" fill="#000" text-anchor="middle" >700</text>
<text x="754.62" y="363.40" font-size="12.1" font-weight="bold" font-style="normal" fill="#000" text-anchor="middle" >800</text>
<text x="809.70" y="363.40" font-size="12.1" font-weight="bold" font-style="normal" fill="#000" text-anchor="middle" >900</text>
<text x="864.78" y="363.40" font-size="12.1" font-weight="bold" font-style="normal" fill="#000" text-anchor="middle" >1000</text>
<text x="531.60" y="353.60" font-size="12.1" font-weight="bold" font-style="normal" fill="#000" text-anchor="end" >0.0</text>
<text x="531.60" y="287.54" font-size="12.1" font-weight="bold" font-style="normal" fill="#000" text-anchor="end" >0.2</text>
<text x="531.60" y="221.48" font-size="12.1" font-weight="bold" font-style="normal" fill="#000" text-anchor="end" >0.4</text>
<text x="531.60" y="155.42" font-size="12.1" font-weight="bold" font-style="normal" fill="#000" text-anchor="end" >0.6</text>
<text x="531.60" y="89.36" font-size="12.1" font-weight="bold" font-style="normal" fill="#000" text-anchor="end" >0.8</text>
<text x="531.60" y="23.30" font-size="12.1" font-weight="bold" font-style="normal" fill="#000" text-anchor="end" >1.0</text>
<text x="541.40" y="37.40" font-size="15.8" font-weight="bold" font-style="normal" fill="#000" text-anchor="start" >(b)</text>
<text transform="translate(567.40,89.60) scale(1.13,1)" font-size="15" font-weight="bold" font-style="italic" fill="#000">λ</text><text x="576.50" y="94.00" font-size="11.3" font-weight="bold" fill="#000">323</text><text x="576.70" y="86.80" font-size="12.4" font-weight="bold" fill="#000">′</text><text x="579.50" y="86.20" font-size="12.4" font-weight="bold" fill="#000">*</text>
<text transform="translate(596.00,89.60) scale(1.13,1)" font-size="15" font-weight="bold" font-style="italic" fill="#000">λ</text><text x="605.10" y="94.00" font-size="11.3" font-weight="bold" fill="#000">333</text><text x="605.00" y="88.40" font-size="12.4" font-weight="bold" fill="#000">′</text>
<text x="623.90" y="89.60" font-size="15.4" font-weight="bold" font-style="normal" fill="#000" text-anchor="start" >=−</text>
<text transform="translate(643.60,89.60) scale(1.13,1)" font-size="15" font-weight="bold" font-style="italic" fill="#000">λ</text><text x="652.70" y="94.00" font-size="11.3" font-weight="bold" fill="#000">223</text><text x="652.90" y="86.80" font-size="12.4" font-weight="bold" fill="#000">′</text><text x="655.70" y="86.20" font-size="12.4" font-weight="bold" fill="#000">*</text>
<text transform="translate(672.20,89.60) scale(1.13,1)" font-size="15" font-weight="bold" font-style="italic" fill="#000">λ</text><text x="681.30" y="94.00" font-size="11.3" font-weight="bold" fill="#000">233</text><text x="681.20" y="88.40" font-size="12.4" font-weight="bold" fill="#000">′</text>
<text x="674.80" y="320.50" font-size="16.3" font-weight="bold" font-style="normal" fill="#ff0000" text-anchor="start" >Δa</text>
<text x="695.70" y="323.40" font-size="11.5" font-weight="bold" font-style="italic" fill="#ff0000" text-anchor="start" >μ</text>
<text x="707.40" y="320.50" font-size="16.3" font-weight="bold" font-style="normal" fill="#ff0000" text-anchor="start" >at</text>
<text x="726.20" y="320.50" font-size="16.3" font-weight="bold" font-style="normal" fill="#ff0000" text-anchor="start" >2</text>
<text transform="translate(735.0,320.5) scale(1.08,1)" font-size="16.3" font-weight="bold" font-style="italic" fill="#ff0000">σ</text>
<text x="666.20" y="386.10" font-size="15.8" font-weight="bold" font-style="italic" fill="#000">m</text>
<text x="680.30" y="392.30" font-size="10.6" font-weight="bold" font-style="italic" fill="#000">L</text>
<text x="686.60" y="394.80" font-size="8.7" font-weight="bold" fill="#000">2</text>
<text x="680.40" y="384.20" font-size="7.6" font-weight="bold" fill="#000">~</text>
<text x="686.90" y="385.90" font-size="9" font-weight="bold" fill="#000">′</text>
<text x="691.50" y="386.20" font-size="15.8" font-weight="bold" font-style="normal" fill="#000" text-anchor="start" >(GeV)</text>
<g transform="translate(504.6,212.2) rotate(-90)">
<text transform="translate(0.40,0.00) scale(1.13,1)" font-size="15" font-weight="bold" font-style="italic" fill="#000">λ</text><text x="9.50" y="4.40" font-size="11.3" font-weight="bold" fill="#000">223</text><text x="9.70" y="-2.80" font-size="12.4" font-weight="bold" fill="#000">′</text><text x="12.50" y="-3.40" font-size="12.4" font-weight="bold" fill="#000">*</text>
<text transform="translate(29.00,0.00) scale(1.13,1)" font-size="15" font-weight="bold" font-style="italic" fill="#000">λ</text><text x="38.10" y="4.40" font-size="11.3" font-weight="bold" fill="#000">233</text><text x="38.00" y="-1.20" font-size="12.4" font-weight="bold" fill="#000">′</text>
</g>
</svg>
</body></html>
